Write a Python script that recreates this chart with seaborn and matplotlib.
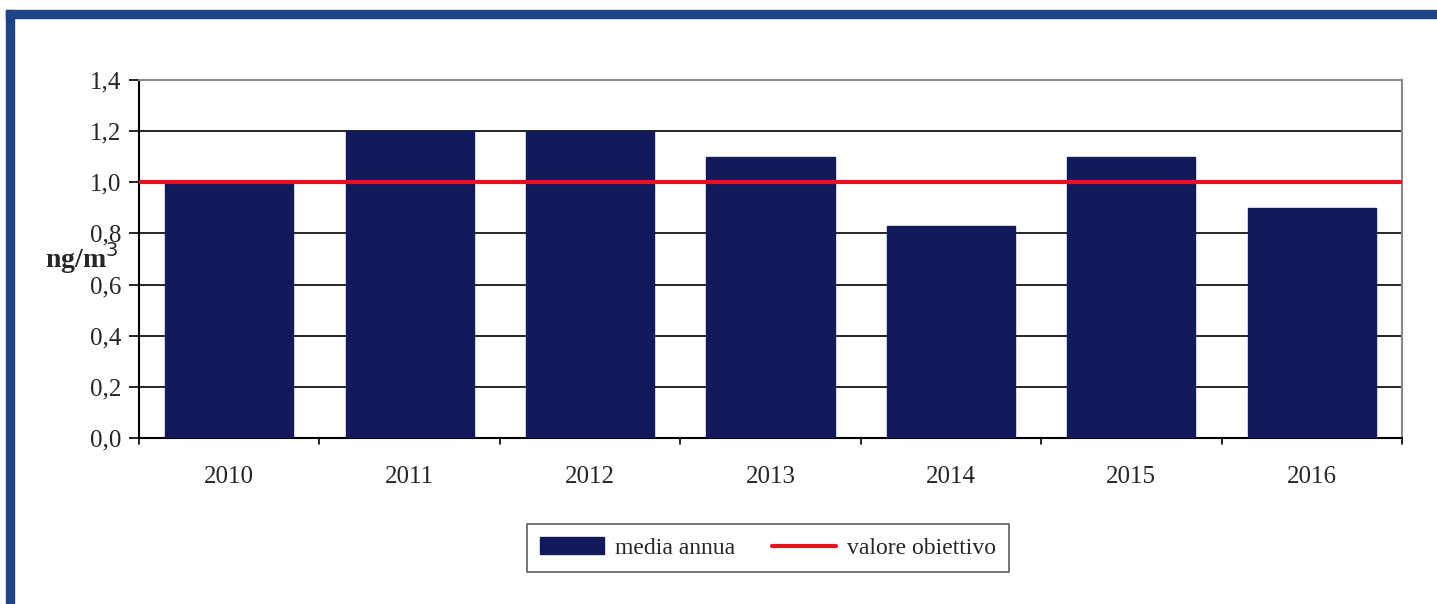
import matplotlib
matplotlib.use("Agg")
import matplotlib.pyplot as plt
from matplotlib.patches import Rectangle
from matplotlib.lines import Line2D
from matplotlib.ticker import FixedLocator
import seaborn as sns
import pandas as pd

years = ["2010", "2011", "2012", "2013", "2014", "2015", "2016"]
media_annua = [1.0, 1.2, 1.2, 1.1, 0.83, 1.1, 0.9]
valore_obiettivo = 1.0
y_ticks = [0.0, 0.2, 0.4, 0.6, 0.8, 1.0, 1.2, 1.4]

sns.set_theme(style="white")
plt.rcParams["font.family"] = ["Liberation Serif", "DejaVu Serif"]

W, H = 1437, 604
fig = plt.figure(figsize=(W / 100, H / 100), dpi=100)
ax = fig.add_axes([139 / W, 1 - 438 / H, (1402 - 139) / W, (438 - 80) / H])

df = pd.DataFrame({"anno": years, "valore": media_annua})
navy = "#131a5c"
sns.barplot(data=df, x="anno", y="valore", color=navy, saturation=1,
            width=0.71, ax=ax, zorder=3)
for p in ax.patches:
    p.set_edgecolor(navy)

ax.set_ylim(0, 1.4)
ax.set_xlim(-0.5, len(years) - 0.5)
ax.yaxis.set_major_locator(FixedLocator(y_ticks))
ax.set_yticklabels([f"{v:.1f}".replace(".", ",") for v in y_ticks], fontsize=18)
ax.grid(axis="y", color="black", linewidth=1.2, zorder=1)
ax.set_axisbelow(True)

# target value line
ax.axhline(valore_obiettivo, color="#e3141c", linewidth=3, zorder=4)

# category boundary ticks on the x axis
ax.set_xticks(range(len(years)))
ax.set_xticklabels(years, fontsize=18)
ax.tick_params(axis="x", length=0, pad=20)
ax.tick_params(axis="y", length=7, width=1.2, color="black", left=True, pad=6)
for b in [i - 0.5 for i in range(len(years) + 1)]:
    ax.plot([b, b], [0, -0.025], color="black", linewidth=1.2,
            clip_on=False, zorder=5, transform=ax.transData)

for s in ["left", "bottom"]:
    ax.spines[s].set_color("black")
    ax.spines[s].set_linewidth(1.5)
for s in ["top", "right"]:
    ax.spines[s].set_color("#8a8a8a")
    ax.spines[s].set_linewidth(1.5)

ax.set_xlabel("")
ax.set_ylabel("")
fig.text(45 / W, 1 - 258 / H, "ng/m$^3$", fontsize=20, fontweight="bold",
         ha="left", va="center")

handles = [Rectangle((0, 0), 1, 1, color=navy),
           Line2D([0], [0], color="#e3141c", linewidth=3)]
leg = fig.legend(handles, ["media annua", "valore obiettivo"],
                 loc="center", bbox_to_anchor=(768 / W, 1 - 548 / H), ncol=2,
                 frameon=True, fancybox=False, fontsize=17,
                 handlelength=2.7, handletextpad=0.45, columnspacing=1.6,
                 borderpad=0.55, borderaxespad=0)
leg.get_frame().set_edgecolor("#333333")
leg.get_frame().set_linewidth(1.2)

# page frame
blue = "#1e4388"
fig.patches.append(Rectangle((6 / W, 0), 8 / W, 1 - 10 / H, transform=fig.transFigure,
                             color=blue, zorder=10))
fig.patches.append(Rectangle((6 / W, 1 - 18 / H), 1 - 6 / W, 8 / H,
                             transform=fig.transFigure, color=blue, zorder=10))

fig.savefig("out.png", dpi=100, facecolor="white")
